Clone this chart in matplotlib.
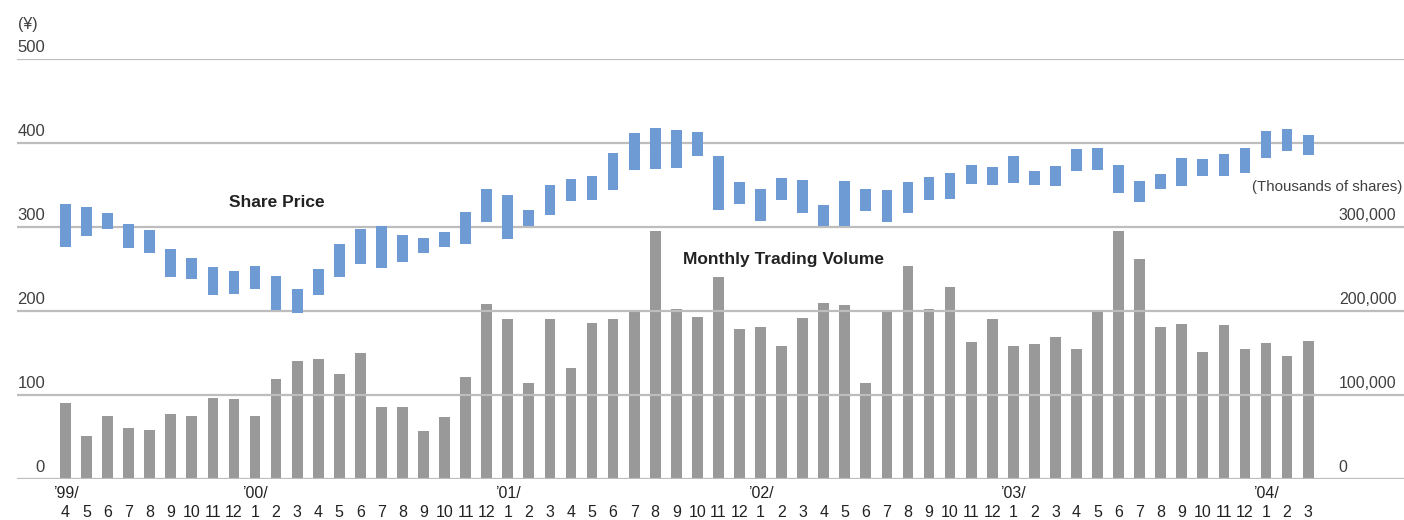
"""
Share price range and monthly trading volume, Apr 1999 - Mar 2004.
"""

import matplotlib

matplotlib.use("Agg")

import matplotlib.pyplot as plt
import numpy as np

plt.rcParams["font.family"] = ["Liberation Sans", "DejaVu Sans"]

# monthly price range (yen)
price_low = [
    276, 290, 298, 275, 270, 241, 238, 220, 221,
    227, 202, 198, 219, 241, 256, 252, 259, 269, 277, 280, 306,
    286, 302, 315, 331, 333, 345, 368, 369, 371, 385, 321, 328,
    308, 333, 317, 302, 302, 320, 306, 317, 332, 334, 351, 350,
    353, 350, 349, 367, 368, 341, 330, 346, 349, 361, 361, 365,
    383, 391, 386,
]
price_high = [
    328, 324, 317, 304, 297, 274, 263, 253, 248,
    254, 242, 227, 250, 280, 298, 302, 291, 287, 295, 318, 346,
    339, 321, 350, 357, 361, 388, 412, 418, 416, 414, 385, 354,
    346, 359, 356, 327, 355, 346, 344, 354, 360, 365, 374, 372,
    385, 367, 373, 393, 394, 374, 355, 363, 383, 381, 387, 394,
    415, 417, 410,
]

# monthly trading volume (thousands of shares)
volume = [
    91200, 51500, 75400, 61100, 58700, 77700, 75400, 96800, 95600,
    75400, 119400, 140800, 143200, 125400, 150400, 86100, 86100, 57500, 74200, 121800, 208700,
    190800, 114600, 190800, 132500, 186100, 190800, 201600, 295600, 202800, 193200, 240800, 179000,
    181300, 158700, 192000, 209900, 207500, 114600, 201600, 253900, 202800, 228900, 163500, 190800,
    158700, 161100, 169400, 155100, 199200, 295600, 262300, 181300, 184900, 151500, 183700, 155100,
    162300, 147000, 164700,
]

months = [
    "4", "5", "6", "7", "8", "9", "10", "11", "12",
    "1", "2", "3", "4", "5", "6", "7", "8", "9", "10", "11", "12",
    "1", "2", "3", "4", "5", "6", "7", "8", "9", "10", "11", "12",
    "1", "2", "3", "4", "5", "6", "7", "8", "9", "10", "11", "12",
    "1", "2", "3", "4", "5", "6", "7", "8", "9", "10", "11", "12",
    "1", "2", "3",
]
year_marks = {0: "\u201999/", 9: "\u201900/", 21: "\u201901/", 33: "\u201902/", 45: "\u201903/", 57: "\u201904/"}

price_ticks = [0, 100, 200, 300, 400, 500]
volume_ticks = [0, 100000, 200000, 300000]

BLUE = "#6f9bd4"
GRAY = "#999999"
GRID = "#bdbdbd"
LABEL = "#404040"
DARK = "#222222"


def main():

    fig = plt.figure(figsize=(14.04, 5.2), dpi=100)

    ax = fig.add_axes([17 / 1404, 40.7 / 520, 1387 / 1404, 420 / 520])
    ax2 = ax.twinx()

    x = np.arange(len(volume))
    low = np.array(price_low)
    high = np.array(price_high)

    #
    # Grid
    #

    for v in price_ticks:
        ax.axhline(v, color=GRID, lw=1.6, zorder=0)

    #
    # Volume bars (right axis)
    #

    ax2.bar(x, volume, width=0.51, color=GRAY, zorder=2)
    ax2.set_ylim(0, 500000)

    #
    # Price ranges (left axis)
    #

    ax.bar(x, high - low, bottom=low, width=0.51, color=BLUE, zorder=3)
    ax.set_ylim(0, 500)
    ax.set_xlim(-2.30, 63.55)

    ax.set_zorder(ax2.get_zorder() + 1)
    ax.patch.set_visible(False)

    for a in (ax, ax2):
        for s in a.spines.values():
            s.set_visible(False)
        a.set_xticks([])
        a.set_yticks([])

    #
    # Axis labels
    #

    ytr = ax.get_yaxis_transform()
    for v in price_ticks:
        ax.text(0.0202, v + 14, str(v), transform=ytr, ha="right",
                va="center", fontsize=12, color=LABEL, clip_on=False)
    ax.text(0.0008, 541, "(\u00a5)", transform=ytr, ha="left",
            va="center", fontsize=11.5, color=LABEL, clip_on=False)

    ytr2 = ax2.get_yaxis_transform()
    for v in volume_ticks:
        ax2.text(0.953, v + 14300, f"{v:,}", transform=ytr2, ha="left",
                 va="center", fontsize=11.5, color=LABEL, clip_on=False)
    ax2.text(0.9986, 348000, "(Thousands of shares)", transform=ytr2,
             ha="right", va="center", fontsize=10.8, color=LABEL,
             clip_on=False)

    for i, m in enumerate(months):
        ax.text(i, -39, m, ha="center", va="center", fontsize=11.5,
                color=DARK, clip_on=False)
    for i, yr in year_marks.items():
        ax.text(i, -16.5, yr, ha="center", va="center", fontsize=11.5,
                color=DARK, clip_on=False)

    #
    # Series names
    #

    ax.text(10.04, 330, "Share Price", ha="center", va="center",
            fontsize=12.5, fontweight="bold", color=DARK)
    ax.text(34.1, 262, "Monthly Trading Volume", ha="center", va="center",
            fontsize=12.5, fontweight="bold", color=DARK)

    plt.savefig("out.png", dpi=100)
    plt.close()


if __name__ == "__main__":

    main()
